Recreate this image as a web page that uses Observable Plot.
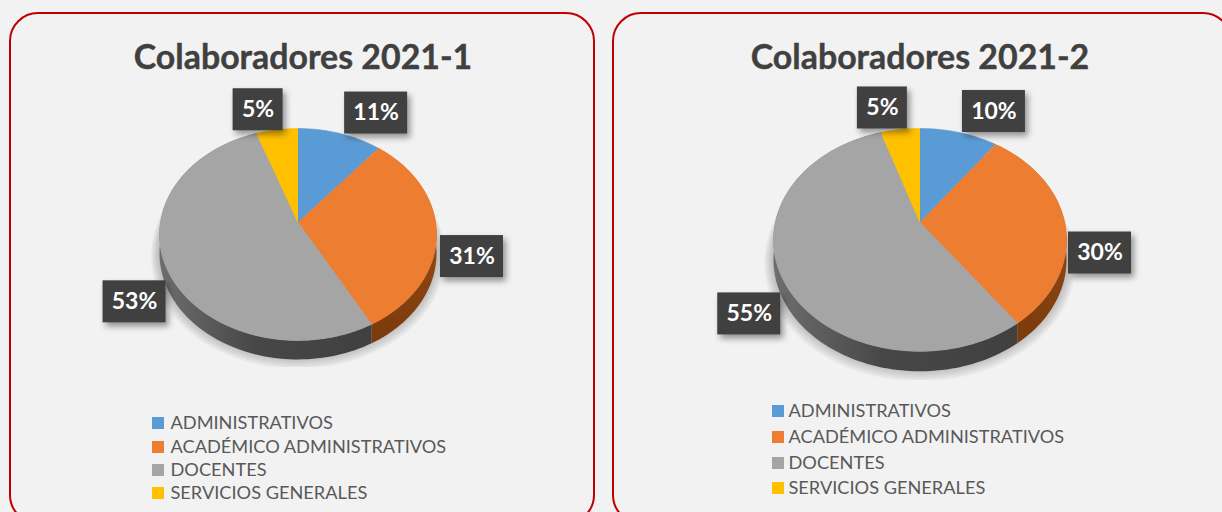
<!DOCTYPE html>
<html><head><meta charset="utf-8">
<script src="https://cdn.jsdelivr.net/npm/d3@7"></script>
<script src="https://cdn.jsdelivr.net/npm/@observablehq/plot@0.6"></script>
<style>html,body{margin:0;padding:0;background:#f2f2f2;overflow:hidden}svg{display:block}</style>
</head><body><div id="chart"></div>
<script>
const categories = ["ADMINISTRATIVOS","ACADÉMICO ADMINISTRATIVOS","DOCENTES","SERVICIOS GENERALES"];
const colors = ["#5b9bd5","#ed7d31","#a5a5a5","#ffc000"];
const title1 = "Colaboradores 2021-1";
const title2 = "Colaboradores 2021-2";
const values1 = [11,31,52.6,5.4];
const values2 = [10,30,55,5];

// layout only
const panels = [
  {title:title1, values:values1, x1:10, x2:594, apexX:297.5, apexY:222, rx:137.6, ry:104.6, k:0.113, depth:19, clipY:367,
   titleX:302.5, legendSwatch:152, legendText:170, legendRows:[423,447,470,493],
   nudge:[[36,-20.5],[35.5,24.1],[-31.8,34.5],[-19,-20]]},
  {title:title2, values:values2, x1:613, x2:1231, apexX:919.5, apexY:222, rx:144.7, ry:108.7, k:0.156, depth:20, clipY:380,
   titleX:919.5, legendSwatch:772, legendText:788, legendRows:[411,437,463,488],
   nudge:[[35,-21],[35.3,30.5],[-32,38.3],[-18,-21.5]]}
];

function project(p, f, d = 0) {
  const t = f * 2 * Math.PI, u = Math.sin(t), v = -Math.cos(t), w = 1 - p.k * v;
  return [p.apexX + p.rx * u / w, p.apexY + p.ry * v / w + d];
}
const slices = [], walls = [], outlines = [], labels = [], legend = [], titles = [], frames = [], masks = [];
panels.forEach((p, pi) => {
  const total = d3.sum(p.values);
  let acc = 0;
  frames.push({x1:p.x1, x2:p.x2});
  titles.push({x:p.titleX, text:p.title});
  masks.push({x1:p.apexX-190, x2:p.apexX+190, y1:p.clipY, y2:p.clipY+16});
  // soft shadow: stacked translucent outlines of the pie
  d3.range(0, 9).forEach(layer => {
    d3.range(0, 121).forEach(i => {
      const [x, y] = project(p, i / 120);
      const s = 1 + 0.008 * layer;
      outlines.push({ring:pi + "-" + layer, x:p.apexX + (x - p.apexX) * s, y:p.apexY + (y - p.apexY) * s + p.depth * 0.9 + layer * 0.5});
    });
  });
  p.values.forEach((val, i) => {
    const a = acc / total, b = (acc + val) / total, mid = (a + b) / 2, id = pi + "-" + i;
    const n = Math.max(2, Math.ceil(val * 2));
    const arc = d3.range(0, n + 1).map(j => a + (b - a) * j / n);
    slices.push({id, category:categories[i], x:p.apexX, y:p.apexY});
    arc.forEach(f => { const [x, y] = project(p, f); slices.push({id, category:categories[i], x, y}); });
    arc.forEach(f => { const [x, y] = project(p, f); walls.push({id, category:categories[i], x, y}); });
    arc.slice().reverse().forEach(f => { const [x, y] = project(p, f, p.depth); walls.push({id, category:categories[i], x, y}); });
    const [ex, ey] = project(p, mid);
    labels.push({x:ex + p.nudge[i][0], y:ey + p.nudge[i][1], text:Math.round(val / total * 100) + "%", w:val < 10 ? 50 : 63});
    legend.push({x:p.legendSwatch, tx:p.legendText, y:p.legendRows[i], category:categories[i]});
    acc += val;
  });
});

const fontFamily = "Lato, 'Open Sans', sans-serif";
const svg = Plot.plot({
  width:1222, height:512, margin:0, style:{background:"#f2f2f2"},
  x:{domain:[0,1222], range:[0,1222], axis:null},
  y:{domain:[0,512], range:[0,512], axis:null},
  color:{domain:categories, range:colors},
  marks:[
    Plot.rect(frames,{x1:"x1", x2:"x2", y1:()=>13, y2:()=>523, rx:28, fill:"#f2f2f2", stroke:"#c00000", strokeWidth:2}),
    Plot.line(outlines,{x:"x", y:"y", z:"ring", fill:"#000", fillOpacity:0.028, stroke:"none"}),
    Plot.rect(masks,{x1:"x1", x2:"x2", y1:"y1", y2:"y2", fill:"#f2f2f2"}),
    Plot.line(walls.filter(d=>d.category===categories[1]),{x:"x", y:"y", z:"id", fill:"url(#wallOrange)", stroke:"none"}),
    Plot.line(walls.filter(d=>d.category===categories[2]),{x:"x", y:"y", z:"id", fill:"url(#wallGray)", stroke:"none"}),
    Plot.line(slices,{x:"x", y:"y", z:"id", fill:"category", stroke:"category", strokeWidth:0.6}),
    Plot.rect(labels,{x1:d=>d.x-d.w/2, x2:d=>d.x+d.w/2, y1:d=>d.y-21, y2:d=>d.y+21, fill:"#404040", imageFilter:"drop-shadow(3px 4px 3px rgba(0,0,0,0.4))"}),
    Plot.text(labels,{x:"x", y:"y", text:"text", fill:"#fff", fontSize:23, fontWeight:700, fontFamily}),
    Plot.text(titles,{x:"x", y:()=>58, text:"text", fill:"#404040", stroke:"#404040", strokeWidth:0.4, fontSize:33.9, fontWeight:700, fontFamily}),
    Plot.rect(legend,{x1:"x", x2:d=>d.x+12, y1:d=>d.y-6, y2:d=>d.y+6, fill:"category"}),
    Plot.text(legend,{x:"tx", y:"y", text:"category", textAnchor:"start", fill:"#595959", fontSize:18.2, fontFamily})
  ]
});
svg.insertAdjacentHTML("afterbegin", `<defs>
<linearGradient id="wallGray" gradientUnits="objectBoundingBox" x1="0" x2="1" y1="0" y2="0"><stop offset="0" stop-color="#6e6e6e"/><stop offset="0.45" stop-color="#474747"/><stop offset="1" stop-color="#404040"/></linearGradient>
<linearGradient id="wallOrange" gradientUnits="objectBoundingBox" x1="0" x2="0" y1="0" y2="1"><stop offset="0" stop-color="#a8541a"/><stop offset="1" stop-color="#7a3a0c"/></linearGradient>
</defs>`);
document.getElementById("chart").appendChild(svg);
</script></body></html>
